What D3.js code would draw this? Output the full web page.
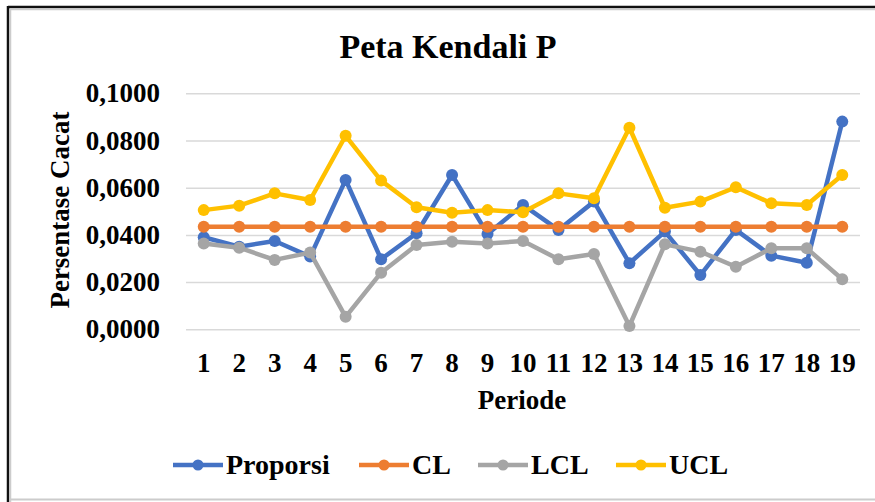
<!DOCTYPE html>
<html>
<head>
<meta charset="utf-8">
<script src="https://cdn.jsdelivr.net/npm/d3@7/dist/d3.min.js"></script>
<style>
  body { margin: 0; background: #fff; }
  text { font-family: "Liberation Serif", "Times New Roman", serif; font-weight: bold; fill: #000; }
</style>
</head>
<body>
<div id="chart"></div>
<script>
var periode = ["1","2","3","4","5","6","7","8","9","10","11","12","13","14","15","16","17","18","19"];
var proporsi = [0.0390,0.0350,0.0374,0.0308,0.0633,0.0297,0.0407,0.0654,0.0404,0.0527,0.0421,0.0541,0.0280,0.0414,0.0230,0.0421,0.0312,0.0282,0.0880];
var cl = [0.0435,0.0435,0.0435,0.0435,0.0435,0.0435,0.0435,0.0435,0.0435,0.0435,0.0435,0.0435,0.0435,0.0435,0.0435,0.0435,0.0435,0.0435,0.0435];
var lcl = [0.0364,0.0346,0.0294,0.0325,0.0053,0.0240,0.0357,0.0371,0.0364,0.0374,0.0297,0.0319,0.0014,0.0360,0.0329,0.0265,0.0343,0.0343,0.0212];
var ucl = [0.0505,0.0524,0.0576,0.0548,0.0820,0.0630,0.0517,0.0494,0.0505,0.0496,0.0576,0.0555,0.0854,0.0515,0.0541,0.0602,0.0534,0.0527,0.0654];
var yTicks = [0, 0.02, 0.04, 0.06, 0.08, 0.1];
var seriesNames = ["Proporsi", "CL", "LCL", "UCL"];
var seriesColors = ["#4472C4", "#ED7D31", "#A5A5A5", "#FFC000"];

var series = [proporsi, cl, lcl, ucl];

var width = 875, height = 502;
var svg = d3.select("#chart").append("svg")
    .attr("width", width)
    .attr("height", height);

// frame
svg.append("line").attr("x1", 8).attr("x2", 8).attr("y1", 6).attr("y2", height)
    .attr("stroke", "#111").attr("stroke-width", 2.5);
svg.append("line").attr("x1", 8).attr("x2", width).attr("y1", 7).attr("y2", 7)
    .attr("stroke", "#111").attr("stroke-width", 2.5);
svg.append("line").attr("x1", 10.5).attr("x2", 10.5).attr("y1", 9).attr("y2", height)
    .attr("stroke", "#ccc").attr("stroke-width", 1.5);
svg.append("line").attr("x1", 10).attr("x2", width).attr("y1", 9.5).attr("y2", 9.5)
    .attr("stroke", "#ccc").attr("stroke-width", 1.5);
svg.append("line").attr("x1", 10).attr("x2", width).attr("y1", 499.5).attr("y2", 499.5)
    .attr("stroke", "#ccc").attr("stroke-width", 2);

var plot = {left: 186, right: 860, top: 93.3, bottom: 329.3};

var x = d3.scaleBand()
    .domain(periode)
    .range([plot.left, plot.right]);

var y = d3.scaleLinear()
    .domain([0, 0.1])
    .range([plot.bottom, plot.top]);

var fmt = function (d) { return d3.format(".4f")(d).replace(".", ","); };

// gridlines
svg.append("g")
    .attr("transform", "translate(" + plot.left + ",0)")
    .call(d3.axisLeft(y).tickValues(yTicks).tickSize(-(plot.right - plot.left)).tickFormat(""))
    .call(function (g) {
        g.select(".domain").remove();
        g.selectAll("line").attr("stroke", "#d9d9d9").attr("stroke-width", 1.5);
    });

// y tick labels
svg.append("g")
    .attr("transform", "translate(" + 160 + ",0)")
    .call(d3.axisLeft(y).tickValues(yTicks).tickSize(0).tickPadding(0).tickFormat(fmt))
    .call(function (g) {
        g.select(".domain").remove();
        g.selectAll("text").attr("font-size", 27).attr("dy", "0.32em")
            .style("font-family", "'Liberation Serif', serif").style("font-weight", "bold").attr("fill", "#000");
    });

// x tick labels
svg.append("g")
    .attr("transform", "translate(0," + 372 + ")")
    .call(d3.axisBottom(x).tickSize(0).tickPadding(0))
    .call(function (g) {
        g.select(".domain").remove();
        g.selectAll("text").attr("font-size", 27).attr("dy", 0)
            .style("font-family", "'Liberation Serif', serif").style("font-weight", "bold").attr("fill", "#000");
    });

// title and axis labels
svg.append("text")
    .attr("x", 448).attr("y", 58)
    .attr("text-anchor", "middle")
    .attr("font-size", 34)
    .text("Peta Kendali P");

svg.append("text")
    .attr("x", 522).attr("y", 409)
    .attr("text-anchor", "middle")
    .attr("font-size", 27)
    .text("Periode");

svg.append("text")
    .attr("transform", "translate(69,210) rotate(-90)")
    .attr("text-anchor", "middle")
    .attr("font-size", 27)
    .text("Persentase Cacat");

// lines and markers
var line = d3.line()
    .x(function (d, i) { return x(periode[i]) + x.bandwidth() / 2; })
    .y(function (d) { return y(d); });

series.forEach(function (vals, k) {
    var g = svg.append("g");
    g.append("path")
        .datum(vals)
        .attr("d", line)
        .attr("fill", "none")
        .attr("stroke", seriesColors[k])
        .attr("stroke-width", 4.5)
        .attr("stroke-linejoin", "round");
    g.selectAll("circle")
        .data(vals)
        .enter().append("circle")
        .attr("cx", function (d, i) { return x(periode[i]) + x.bandwidth() / 2; })
        .attr("cy", function (d) { return y(d); })
        .attr("r", 6)
        .attr("fill", seriesColors[k]);
});

// legend
var legendX = [173, 359, 478, 616];
var legend = svg.selectAll(".legend")
    .data(seriesNames)
    .enter().append("g")
    .attr("class", "legend")
    .attr("transform", function (d, i) { return "translate(" + legendX[i] + ",465)"; });

legend.append("line")
    .attr("x1", 0).attr("x2", 50)
    .attr("stroke", function (d, i) { return seriesColors[i]; })
    .attr("stroke-width", 4.5);

legend.append("circle")
    .attr("cx", 25).attr("r", 5.5)
    .attr("fill", function (d, i) { return seriesColors[i]; });

legend.append("text")
    .attr("x", 53).attr("y", 9)
    .attr("font-size", 28)
    .text(function (d) { return d; });
</script>
</body>
</html>
